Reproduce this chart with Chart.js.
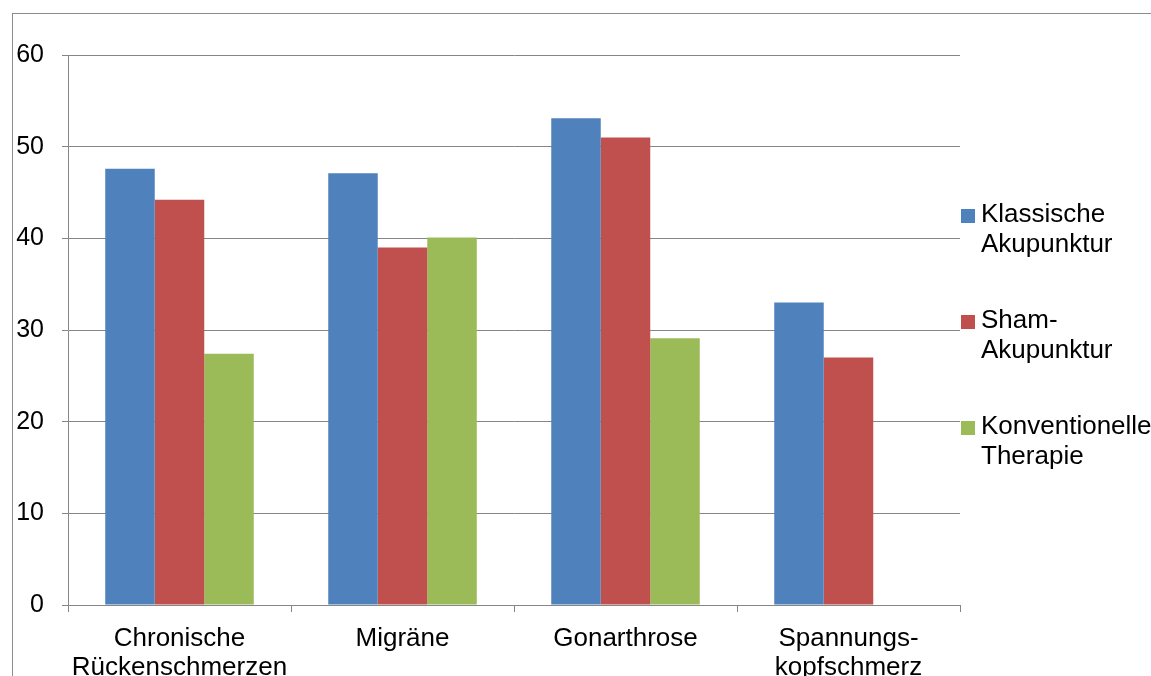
<!DOCTYPE html>
<html>
<head>
<meta charset="utf-8">
<script src="https://cdn.jsdelivr.net/npm/chart.js@4/dist/chart.umd.min.js"></script>
<style>
  html, body { margin: 0; padding: 0; background: #ffffff; overflow: hidden; }
  #wrap { width: 1151px; height: 676px; position: relative; }
</style>
</head>
<body>
<div id="wrap"><canvas id="chart" width="1151" height="676"></canvas></div>
<script>
// Ansprechraten nach Behandlungsart (in %)
const categories = [['Chronische', 'Rückenschmerzen'], 'Migräne', 'Gonarthrose', ['Spannungs-', 'kopfschmerz']];
const seriesLabels = [['Klassische', 'Akupunktur'], ['Sham-', 'Akupunktur'], ['Konventionelle', 'Therapie']];
const klassisch = [47.6, 47.1, 53.1, 33.0];
const sham = [44.2, 39.0, 51.0, 27.0];
const konventionell = [27.4, 40.1, 29.1, null];
const yTicks = [0, 10, 20, 30, 40, 50, 60];

const colors = ['#4F81BD', '#C0504D', '#9BBB59'];
const gridColor = '#868686';
const fontFamily = '"Liberation Sans", Arial, sans-serif';

// Rahmen um das gesamte Diagramm
const frame = {
    id: 'frame',
    beforeDraw: function (chart) {
        const ctx = chart.ctx;
        ctx.save();
        ctx.strokeStyle = '#8c8c8c';
        ctx.lineWidth = 1;
        ctx.strokeRect(12.5, 13.5, chart.width + 20, chart.height + 20);
        ctx.restore();
    }
};

// Legende rechts mit zweizeiligen Beschriftungen
const sideLegend = {
    id: 'sideLegend',
    afterDraw: function (chart) {
        const ctx = chart.ctx;
        const x = chart.chartArea.right + 1;
        const firstY = 215;
        const step = 106;
        const lineH = 30;
        ctx.save();
        ctx.font = '26px ' + fontFamily;
        ctx.textBaseline = 'middle';
        ctx.textAlign = 'left';
        chart.data.datasets.forEach(function (ds, i) {
            const y = firstY + i * step;
            ctx.fillStyle = ds.backgroundColor;
            ctx.fillRect(x, y - 6, 14, 14);
            ctx.fillStyle = '#000000';
            const lines = Array.isArray(ds.label) ? ds.label : [ds.label];
            lines.forEach(function (t, j) {
                ctx.fillText(t, x + 20, y + j * lineH);
            });
        });
        ctx.restore();
    }
};

new Chart(document.getElementById('chart').getContext('2d'), {
    type: 'bar',
    data: {
        labels: categories,
        datasets: [
            { label: seriesLabels[0], data: klassisch, backgroundColor: colors[0] },
            { label: seriesLabels[1], data: sham, backgroundColor: colors[1] },
            { label: seriesLabels[2], data: konventionell, backgroundColor: colors[2] }
        ]
    },
    options: {
        responsive: false,
        animation: false,
        devicePixelRatio: 1,
        categoryPercentage: 0.666,
        barPercentage: 1.0,
        layout: { padding: { top: 55, right: 191, left: 0, bottom: 0 } },
        plugins: {
            legend: { display: false },
            tooltip: { enabled: false }
        },
        scales: {
            x: {
                afterFit: function (scale) { scale.height = 71; },
                border: { display: true, color: gridColor, width: 1 },
                grid: {
                    display: true,
                    offset: true,
                    drawOnChartArea: false,
                    drawTicks: true,
                    tickLength: 7,
                    color: gridColor
                },
                ticks: {
                    color: '#000000',
                    font: { family: fontFamily, size: 26, lineHeight: 1.13 },
                    padding: 12,
                    maxRotation: 0,
                    autoSkip: false
                }
            },
            y: {
                min: 0,
                max: 60,
                afterFit: function (scale) { scale.width = 68; },
                afterBuildTicks: function (scale) {
                    scale.ticks = yTicks.map(function (v) { return { value: v }; });
                },
                border: { display: true, color: gridColor, width: 1 },
                grid: {
                    color: gridColor,
                    lineWidth: 1,
                    tickLength: 6
                },
                ticks: {
                    color: '#000000',
                    font: { family: fontFamily, size: 25 },
                    padding: 18
                }
            }
        }
    },
    plugins: [frame, sideLegend]
});
</script>
</body>
</html>
